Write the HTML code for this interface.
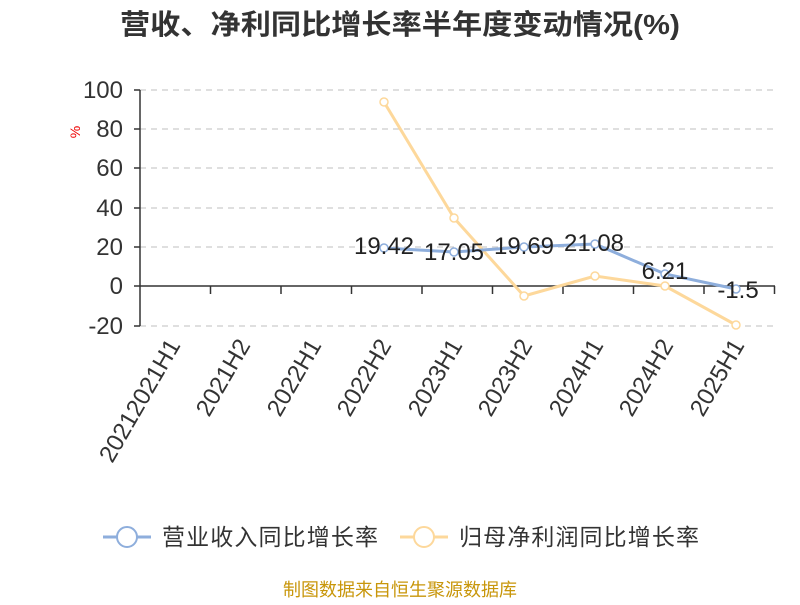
<!DOCTYPE html>
<html><head><meta charset="utf-8"><style>body{margin:0;background:#fff}</style></head><body>
<svg width="800" height="600" xmlns="http://www.w3.org/2000/svg" font-family="Liberation Sans, Noto Sans CJK SC, sans-serif">
<text x="400" y="34" text-anchor="middle" font-size="28" font-weight="bold" fill="#333" textLength="560" lengthAdjust="spacingAndGlyphs">营收、净利同比增长率半年度变动情况(%)</text>
<g stroke="#ccc" stroke-dasharray="6,5" stroke-width="1.2">
<line x1="140" x2="775" y1="90" y2="90"/><line x1="140" x2="775" y1="129" y2="129"/><line x1="140" x2="775" y1="168" y2="168"/><line x1="140" x2="775" y1="208" y2="208"/><line x1="140" x2="775" y1="247" y2="247"/><line x1="140" x2="775" y1="326" y2="326"/>
</g>
<g stroke="#333" stroke-width="1.5">
<line x1="140" x2="140" y1="90" y2="326"/><line x1="140" x2="775" y1="286" y2="286"/>
<line x1="134" x2="140" y1="90" y2="90"/><line x1="134" x2="140" y1="129" y2="129"/><line x1="134" x2="140" y1="168" y2="168"/><line x1="134" x2="140" y1="208" y2="208"/><line x1="134" x2="140" y1="247" y2="247"/><line x1="134" x2="140" y1="286" y2="286"/><line x1="134" x2="140" y1="326" y2="326"/>
<line x1="210.5" x2="210.5" y1="286" y2="294"/><line x1="281" x2="281" y1="286" y2="294"/><line x1="351.5" x2="351.5" y1="286" y2="294"/><line x1="422" x2="422" y1="286" y2="294"/><line x1="492.5" x2="492.5" y1="286" y2="294"/><line x1="563" x2="563" y1="286" y2="294"/><line x1="633.5" x2="633.5" y1="286" y2="294"/><line x1="704" x2="704" y1="286" y2="294"/><line x1="774.5" x2="774.5" y1="286" y2="294"/>
</g>
<g font-size="24" fill="#333" text-anchor="end">
<text x="123" y="98">100</text><text x="123" y="137">80</text><text x="123" y="176">60</text><text x="123" y="216">40</text><text x="123" y="255">20</text><text x="123" y="294">0</text><text x="123" y="334">-20</text>
</g>
<text x="80" y="132" font-size="14" fill="#e00" transform="rotate(-90 80 132)" text-anchor="middle">%</text>
<g font-size="24" fill="#333" text-anchor="end">
<text transform="translate(181,345) rotate(-60)">20212021H1</text>
<text transform="translate(251,345) rotate(-60)">2021H2</text>
<text transform="translate(322,345) rotate(-60)">2022H1</text>
<text transform="translate(392,345) rotate(-60)">2022H2</text>
<text transform="translate(463,345) rotate(-60)">2023H1</text>
<text transform="translate(533,345) rotate(-60)">2023H2</text>
<text transform="translate(604,345) rotate(-60)">2024H1</text>
<text transform="translate(674,345) rotate(-60)">2024H2</text>
<text transform="translate(745,345) rotate(-60)">2025H1</text>
</g>
<polyline fill="none" stroke="#fdd89b" stroke-width="3" points="384,102 454,218 524,296 595,276 665,286 736,325"/>
<polyline fill="none" stroke="#8eaedc" stroke-width="3" points="384,248 454,252 524,247 595,244 665,274 736,289"/>
<g fill="#fff" stroke="#fdd89b" stroke-width="1.5"><circle cx="384" cy="102" r="4"/><circle cx="454" cy="218" r="4"/><circle cx="524" cy="296" r="4"/><circle cx="595" cy="276" r="4"/><circle cx="665" cy="286" r="4"/><circle cx="736" cy="325" r="4"/></g>
<g fill="#fff" stroke="#8eaedc" stroke-width="1.5"><circle cx="384" cy="248" r="4"/><circle cx="454" cy="252" r="4"/><circle cx="524" cy="247" r="4"/><circle cx="595" cy="244" r="4"/><circle cx="665" cy="274" r="4"/><circle cx="736" cy="289" r="4"/></g>
<g font-size="24" fill="#222" text-anchor="middle">
<text x="384" y="254">19.42</text><text x="454" y="260">17.05</text><text x="524" y="254">19.69</text><text x="594" y="251">21.08</text><text x="665" y="279">6.21</text><text x="738" y="298">-1.5</text>
</g>
<line x1="103" x2="151" y1="537" y2="537" stroke="#8eaedc" stroke-width="3"/><circle cx="127" cy="537" r="10" fill="#fff" stroke="#8eaedc" stroke-width="2"/>
<text x="162" y="545" font-size="23" fill="#333" textLength="216">营业收入同比增长率</text>
<line x1="400" x2="448" y1="537" y2="537" stroke="#fdd89b" stroke-width="3"/><circle cx="424" cy="537" r="10" fill="#fff" stroke="#fdd89b" stroke-width="2"/>
<text x="459" y="545" font-size="23" fill="#333" textLength="240">归母净利润同比增长率</text>
<text x="400" y="596" text-anchor="middle" font-size="18" fill="#c8960a">制图数据来自恒生聚源数据库</text>
</svg>
</body></html>
